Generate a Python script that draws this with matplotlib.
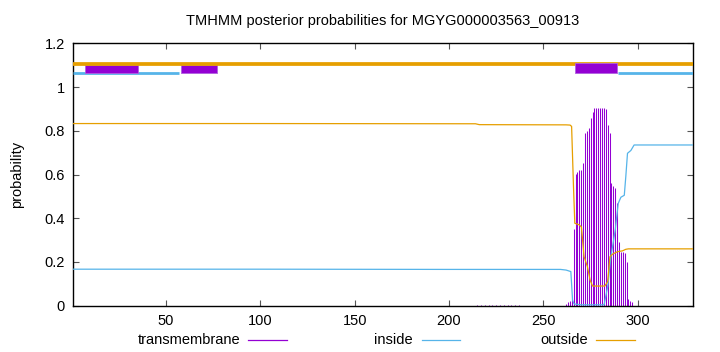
import matplotlib
matplotlib.use("Agg")
import matplotlib.pyplot as plt
from matplotlib.lines import Line2D

plt.rcParams['font.family'] = ['Liberation Sans', 'DejaVu Sans']

title = "TMHMM posterior probabilities for MGYG000003563_00913"
seq_len = 329

# Posterior probability curves (residue, probability)
inside_x = [1, 100, 200, 259, 262, 264.5, 265.4, 266.2, 270, 282.1, 284, 285.7, 288, 289.6,
            291, 292.8, 293.6, 294.5, 296.3, 298, 329]
inside_y = [0.167, 0.167, 0.166, 0.166, 0.163, 0.156, 0.026, 0.008, 0.004, 0.004, 0.087, 0.224,
            0.346, 0.468, 0.496, 0.505, 0.59, 0.697, 0.71, 0.735, 0.735]

outside_x = [1, 100, 214, 216, 262, 264.1, 264.9, 265.9, 266.6, 268.9, 270.1, 271.5, 273.3,
             274.7, 276, 282.5, 284, 285.2, 286.6, 289.2, 291.9, 293.6, 295, 329]
outside_y = [0.833, 0.833, 0.832, 0.828, 0.827, 0.826, 0.82, 0.544, 0.377, 0.37, 0.36, 0.224,
             0.178, 0.117, 0.09, 0.09, 0.11, 0.224, 0.236, 0.247, 0.251, 0.258, 0.26, 0.26]

# Transmembrane posterior (impulses per residue)
tm_res = [215, 217, 219, 221, 223, 225, 227, 229, 231, 233, 235, 237,
          262, 263, 264, 265, 266, 267, 268, 269, 270, 271, 272, 273, 274, 275, 276, 277,
          278, 279, 280, 281, 282, 283, 284, 285, 286, 287, 288, 289, 290, 291, 292, 293,
          294, 295, 296, 297]
tm_val = [0.003, 0.003, 0.004, 0.004, 0.004, 0.005, 0.005, 0.005, 0.004, 0.004, 0.003, 0.003,
          0.01, 0.015, 0.02, 0.03, 0.349, 0.602, 0.61, 0.62, 0.62, 0.654, 0.788, 0.80,
          0.811, 0.857, 0.887, 0.903, 0.903, 0.903, 0.903, 0.903, 0.903, 0.90, 0.826,
          0.788, 0.56, 0.547, 0.537, 0.468, 0.293, 0.247, 0.245, 0.243, 0.201, 0.029,
          0.02, 0.015]

# Predicted topology strip
tm_segments = [(7.3, 35.3), (58.1, 77.1), (266.6, 288.9)]
inside_segments = [(1, 57.2), (289.4, 329)]
outside_segments = [(1, 329)]

c_tm = '#9400d3'
c_in = '#56b4e9'
c_out = '#e69f00'

fig = plt.figure(figsize=(7.2, 3.52), dpi=100)
ax = fig.add_axes([0.1018, 0.1315, 0.8602, 0.7455])

ax.vlines(tm_res, 0, tm_val, color=c_tm, lw=0.75, zorder=2)
ax.plot(inside_x, inside_y, color=c_in, lw=0.9, zorder=3)
ax.plot(outside_x, outside_y, color=c_out, lw=0.9, zorder=3)

for s, e in inside_segments:
    ax.plot([s, e], [1.066, 1.066], color=c_in, lw=2.0, solid_capstyle='butt', zorder=3)
for i, (s, e) in enumerate(tm_segments):
    z = 3.5 if i < 2 else 5
    ax.broken_barh([(s, e - s)], (1.063, 0.036 if i < 2 else 0.048), facecolors=c_tm,
                   edgecolors='#b060e0', linewidth=0.6, zorder=z)
for s, e in outside_segments:
    ax.plot([s, e], [1.105, 1.105], color=c_out, lw=2.7, solid_capstyle='butt', zorder=4)

ax.set_xlim(1, seq_len)
ax.set_ylim(0, 1.2)
ax.set_xticks([50, 100, 150, 200, 250, 300])
ax.set_yticks([0, 0.2, 0.4, 0.6, 0.8, 1.0, 1.2])
ax.set_yticklabels(['0', '0.2', '0.4', '0.6', '0.8', '1', '1.2'])
ax.tick_params(direction='in', length=4, width=0.8, top=True, right=True,
               labelsize=10.5, pad=6, color='#555555')
for sp in ax.spines.values():
    sp.set_linewidth(1.0)
ax.set_ylabel('probability', fontsize=10.5, labelpad=15)
fig.text(0.532, 0.94, title, ha='center', va='center', fontsize=10.5)

# gnuplot-style key at the bottom
ly = 1 - 340 / 352
entries = [('transmembrane', c_tm, 240, 248, 287),
           ('inside', c_in, 413, 422, 460),
           ('outside', c_out, 588, 596, 635)]
for label, col, tx, x0, x1 in entries:
    fig.text(tx / 720, ly, label, ha='right', va='center', fontsize=10.5)
    fig.add_artist(Line2D([x0 / 720, x1 / 720], [ly, ly], color=col, lw=0.9,
                          transform=fig.transFigure))

fig.savefig('out.png', dpi=100)
